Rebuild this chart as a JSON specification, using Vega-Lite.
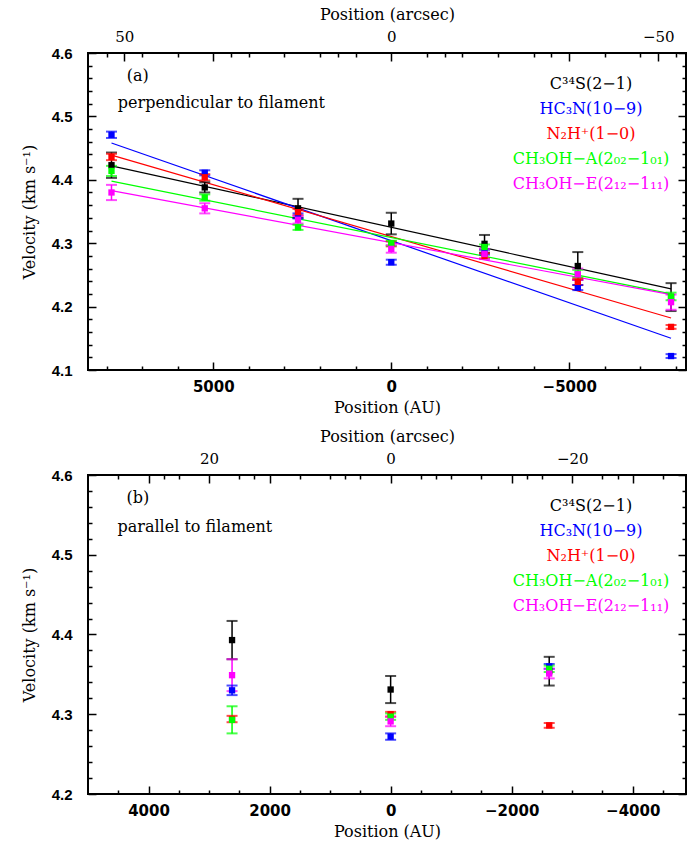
{
  "$schema": "https://vega.github.io/schema/vega-lite/v6.json",
  "padding": {"top": 5, "left": 20, "right": 0, "bottom": 0},
  "spacing": 11,
  "config": {
    "view": {"stroke": "black", "strokeWidth": 2},
    "font": "DejaVu Serif",
    "axis": {"grid": false, "domain": false, "tickColor": "black", "tickWidth": 1.5, "labelColor": "black", "titleColor": "black", "titleFont": "DejaVu Serif", "titleFontSize": 16, "titleFontWeight": "normal"}
  },
  "datasets": {
    "a": [
      {"s": "C34S", "x": 7860, "v": 4.423, "lo": 4.403, "hi": 4.443},
      {"s": "HC3N", "x": 7860, "v": 4.471, "lo": 4.466, "hi": 4.476},
      {"s": "N2H", "x": 7860, "v": 4.436, "lo": 4.431, "hi": 4.441},
      {"s": "CH3OHA", "x": 7860, "v": 4.414, "lo": 4.406, "hi": 4.422},
      {"s": "CH3OHE", "x": 7860, "v": 4.380, "lo": 4.368, "hi": 4.392},
      {"s": "C34S", "x": 5240, "v": 4.388, "lo": 4.380, "hi": 4.396},
      {"s": "HC3N", "x": 5240, "v": 4.411, "lo": 4.407, "hi": 4.415},
      {"s": "N2H", "x": 5240, "v": 4.404, "lo": 4.399, "hi": 4.409},
      {"s": "CH3OHA", "x": 5240, "v": 4.372, "lo": 4.367, "hi": 4.377},
      {"s": "CH3OHE", "x": 5240, "v": 4.355, "lo": 4.347, "hi": 4.363},
      {"s": "C34S", "x": 2620, "v": 4.355, "lo": 4.340, "hi": 4.370},
      {"s": "HC3N", "x": 2620, "v": 4.343, "lo": 4.339, "hi": 4.347},
      {"s": "N2H", "x": 2620, "v": 4.349, "lo": 4.344, "hi": 4.354},
      {"s": "CH3OHA", "x": 2620, "v": 4.325, "lo": 4.321, "hi": 4.329},
      {"s": "CH3OHE", "x": 2620, "v": 4.337, "lo": 4.331, "hi": 4.343},
      {"s": "C34S", "x": 0, "v": 4.331, "lo": 4.314, "hi": 4.348},
      {"s": "HC3N", "x": 0, "v": 4.270, "lo": 4.266, "hi": 4.274},
      {"s": "N2H", "x": 0, "v": 4.299, "lo": 4.295, "hi": 4.303},
      {"s": "CH3OHA", "x": 0, "v": 4.300, "lo": 4.296, "hi": 4.304},
      {"s": "CH3OHE", "x": 0, "v": 4.291, "lo": 4.285, "hi": 4.297},
      {"s": "C34S", "x": -2620, "v": 4.299, "lo": 4.285, "hi": 4.313},
      {"s": "HC3N", "x": -2620, "v": 4.286, "lo": 4.282, "hi": 4.290},
      {"s": "N2H", "x": -2620, "v": 4.280, "lo": 4.276, "hi": 4.284},
      {"s": "CH3OHA", "x": -2620, "v": 4.294, "lo": 4.290, "hi": 4.298},
      {"s": "CH3OHE", "x": -2620, "v": 4.283, "lo": 4.275, "hi": 4.291},
      {"s": "C34S", "x": -5240, "v": 4.264, "lo": 4.242, "hi": 4.286},
      {"s": "HC3N", "x": -5240, "v": 4.230, "lo": 4.226, "hi": 4.234},
      {"s": "N2H", "x": -5240, "v": 4.239, "lo": 4.234, "hi": 4.244},
      {"s": "CH3OHA", "x": -5240, "v": 4.252, "lo": 4.246, "hi": 4.258},
      {"s": "CH3OHE", "x": -5240, "v": 4.251, "lo": 4.242, "hi": 4.260},
      {"s": "C34S", "x": -7860, "v": 4.215, "lo": 4.193, "hi": 4.237},
      {"s": "HC3N", "x": -7860, "v": 4.122, "lo": 4.119, "hi": 4.125},
      {"s": "N2H", "x": -7860, "v": 4.168, "lo": 4.165, "hi": 4.171},
      {"s": "CH3OHA", "x": -7860, "v": 4.216, "lo": 4.210, "hi": 4.222},
      {"s": "CH3OHE", "x": -7860, "v": 4.207, "lo": 4.195, "hi": 4.219}
    ],
    "fa": [
      {"s": "C34S", "x": 7860, "v": 4.422}, {"s": "C34S", "x": -7860, "v": 4.228},
      {"s": "HC3N", "x": 7860, "v": 4.458}, {"s": "HC3N", "x": -7860, "v": 4.150},
      {"s": "N2H", "x": 7860, "v": 4.439}, {"s": "N2H", "x": -7860, "v": 4.182},
      {"s": "CH3OHA", "x": 7860, "v": 4.398}, {"s": "CH3OHA", "x": -7860, "v": 4.220},
      {"s": "CH3OHE", "x": 7860, "v": 4.383}, {"s": "CH3OHE", "x": -7860, "v": 4.219}
    ],
    "b": [
      {"s": "C34S", "x": 2620, "v": 4.393, "lo": 4.369, "hi": 4.417},
      {"s": "HC3N", "x": 2620, "v": 4.330, "lo": 4.324, "hi": 4.336},
      {"s": "N2H", "x": 2620, "v": 4.294, "lo": 4.290, "hi": 4.298},
      {"s": "CH3OHA", "x": 2620, "v": 4.293, "lo": 4.276, "hi": 4.310},
      {"s": "CH3OHE", "x": 2620, "v": 4.349, "lo": 4.329, "hi": 4.369},
      {"s": "C34S", "x": 0, "v": 4.331, "lo": 4.314, "hi": 4.348},
      {"s": "HC3N", "x": 0, "v": 4.272, "lo": 4.268, "hi": 4.276},
      {"s": "N2H", "x": 0, "v": 4.300, "lo": 4.297, "hi": 4.303},
      {"s": "CH3OHA", "x": 0, "v": 4.297, "lo": 4.293, "hi": 4.301},
      {"s": "CH3OHE", "x": 0, "v": 4.291, "lo": 4.285, "hi": 4.297},
      {"s": "C34S", "x": -2620, "v": 4.354, "lo": 4.336, "hi": 4.372},
      {"s": "HC3N", "x": -2620, "v": 4.360, "lo": 4.357, "hi": 4.363},
      {"s": "N2H", "x": -2620, "v": 4.286, "lo": 4.283, "hi": 4.289},
      {"s": "CH3OHA", "x": -2620, "v": 4.357, "lo": 4.353, "hi": 4.361},
      {"s": "CH3OHE", "x": -2620, "v": 4.351, "lo": 4.345, "hi": 4.357}
    ]
  },
  "resolve": {"scale": {"color": "independent"}},
  "vconcat": [
    {
      "width": 598, "height": 317,
      "resolve": {"axis": {"x": "independent", "y": "independent"}},
      "layer": [
        {
          "data": {"name": "fa"},
          "mark": {"type": "line", "strokeWidth": 1.2},
          "encoding": {
            "x": {"field": "x", "type": "quantitative", "scale": {"domain": [-8280, 8520], "reverse": true, "nice": false, "zero": false},
                  "axis": {"orient": "bottom", "labels": false, "title": null, "tickSize": -4, "values": [-8000, -7000, -6000, -4000, -3000, -2000, -1000, 1000, 2000, 3000, 4000, 6000, 7000, 8000]}},
            "y": {"field": "v", "type": "quantitative", "scale": {"domain": [4.1, 4.6], "nice": false, "zero": false},
                  "axis": {"orient": "left", "labels": false, "title": null, "tickSize": -4, "values": [4.12, 4.14, 4.16, 4.18, 4.22, 4.24, 4.26, 4.28, 4.32, 4.34, 4.36, 4.38, 4.42, 4.44, 4.46, 4.48, 4.52, 4.54, 4.56, 4.58]}},
            "color": {"field": "s", "type": "nominal", "scale": {"domain": ["C34S", "HC3N", "N2H", "CH3OHA", "CH3OHE"], "range": ["#000000", "#0000ff", "#ff0000", "#00ff00", "#ff00ff"]}}
          }
        },
        {
          "data": {"name": "a"},
          "mark": {"type": "rule", "strokeWidth": 1.5},
          "encoding": {
            "x": {"field": "x", "type": "quantitative", "scale": {"domain": [-8280, 8520], "reverse": true, "nice": false, "zero": false},
                  "axis": {"orient": "top", "labels": false, "title": null, "tickSize": -8, "values": [7500, 5000, 0, -5000, -7500]}},
            "y": {"field": "lo", "type": "quantitative", "scale": {"domain": [4.1, 4.6], "nice": false, "zero": false},
                  "axis": {"orient": "right", "labels": false, "title": null, "tickSize": -8, "values": [4.1, 4.2, 4.3, 4.4, 4.5, 4.6]}},
            "y2": {"field": "hi"},
            "color": {"field": "s", "type": "nominal", "scale": {"domain": ["C34S", "HC3N", "N2H", "CH3OHA", "CH3OHE"], "range": ["#000000", "#0000ff", "#ff0000", "#00ff00", "#ff00ff"]}}
          }
        },
        {
          "data": {"name": "a"},
          "mark": {"type": "tick", "orient": "horizontal", "size": 11, "thickness": 2},
          "encoding": {
            "x": {"field": "x", "type": "quantitative", "scale": {"domain": [-8280, 8520], "reverse": true, "nice": false, "zero": false},
                  "axis": {"orient": "top", "ticks": false, "values": [7500, 0, -7500], "labelExpr": "format(datum.value/150, 'd')", "labelFont": "DejaVu Serif", "labelFontSize": 15, "labelPadding": 9, "title": "Position (arcsec)", "titlePadding": 7}},
            "y": {"field": "lo", "type": "quantitative", "scale": {"domain": [4.1, 4.6], "nice": false, "zero": false},
                  "axis": {"orient": "right", "labels": false, "title": null, "tickSize": -4, "values": [4.12, 4.14, 4.16, 4.18, 4.22, 4.24, 4.26, 4.28, 4.32, 4.34, 4.36, 4.38, 4.42, 4.44, 4.46, 4.48, 4.52, 4.54, 4.56, 4.58]}},
            "color": {"field": "s", "type": "nominal", "scale": {"domain": ["C34S", "HC3N", "N2H", "CH3OHA", "CH3OHE"], "range": ["#000000", "#0000ff", "#ff0000", "#00ff00", "#ff00ff"]}}
          }
        },
        {
          "data": {"name": "a"},
          "mark": {"type": "tick", "orient": "horizontal", "size": 11, "thickness": 2},
          "encoding": {
            "x": {"field": "x", "type": "quantitative", "scale": {"domain": [-8280, 8520], "reverse": true, "nice": false, "zero": false},
                  "axis": {"orient": "bottom", "labels": false, "title": null, "tickSize": -8, "values": [5000, 0, -5000]}},
            "y": {"field": "hi", "type": "quantitative", "scale": {"domain": [4.1, 4.6], "nice": false, "zero": false},
                  "axis": {"orient": "left", "labels": false, "title": null, "tickSize": -8, "values": [4.1, 4.2, 4.3, 4.4, 4.5, 4.6]}},
            "color": {"field": "s", "type": "nominal", "scale": {"domain": ["C34S", "HC3N", "N2H", "CH3OHA", "CH3OHE"], "range": ["#000000", "#0000ff", "#ff0000", "#00ff00", "#ff00ff"]}}
          }
        },
        {
          "data": {"name": "a"},
          "mark": {"type": "square", "size": 40, "opacity": 1, "filled": true},
          "encoding": {
            "x": {"field": "x", "type": "quantitative", "scale": {"domain": [-8280, 8520], "reverse": true, "nice": false, "zero": false},
                  "axis": {"orient": "bottom", "ticks": false, "values": [5000, 0, -5000], "format": "d", "labelFont": "DejaVu Sans", "labelFontWeight": "bold", "labelFontSize": 15, "labelPadding": 9, "title": "Position (AU)", "titlePadding": 5}},
            "y": {"field": "v", "type": "quantitative", "scale": {"domain": [4.1, 4.6], "nice": false, "zero": false},
                  "axis": {"orient": "left", "ticks": false, "values": [4.1, 4.2, 4.3, 4.4, 4.5, 4.6], "format": ".1f", "labelFont": "Liberation Sans", "labelFontWeight": "bold", "labelFontSize": 15, "labelPadding": 16, "title": "Velocity (km s\u207b\u00b9)", "titlePadding": 14}},
            "color": {"field": "s", "type": "nominal", "scale": {"domain": ["C34S", "HC3N", "N2H", "CH3OHA", "CH3OHE"], "range": ["#000000", "#0000ff", "#ff0000", "#00ff00", "#ff00ff"]},
                      "legend": {"orient": "none", "legendX": 487, "legendY": 23, "title": null, "padding": 0, "symbolSize": 0, "symbolStrokeWidth": 0, "symbolOpacity": 0, "labelFont": "DejaVu Serif", "labelFontSize": 16, "labelAlign": "center", "labelOffset": 0, "labelLimit": 400, "rowPadding": 9,
                                 "labelExpr": "datum.value === 'C34S' ? 'C\u00b3\u2074S(2\u22121)' : datum.value === 'HC3N' ? 'HC\u2083N(10\u22129)' : datum.value === 'N2H' ? 'N\u2082H\u207a(1\u22120)' : datum.value === 'CH3OHA' ? 'CH\u2083OH\u2212A(2\u2080\u2082\u22121\u2080\u2081)' : 'CH\u2083OH\u2212E(2\u2081\u2082\u22121\u2081\u2081)'",
                                 "encode": {"labels": {"update": {"fill": {"signal": "datum.value === 'HC3N' ? '#0000ff' : datum.value === 'N2H' ? '#ff0000' : datum.value === 'CH3OHA' ? '#00ff00' : datum.value === 'CH3OHE' ? '#ff00ff' : '#000000'"}}}}}}
          }
        },
        {
          "data": {"values": [{}]},
          "mark": {"type": "text", "align": "left", "baseline": "middle", "font": "DejaVu Serif", "fontSize": 16, "color": "black"},
          "encoding": {
            "x": {"datum": 7430, "type": "quantitative", "scale": {"domain": [-8280, 8520], "reverse": true, "nice": false, "zero": false},
                  "axis": {"orient": "top", "labels": false, "title": null, "tickSize": -4, "values": [8000, 7000, 6000, 4500, 4000, 3000, 2000, 1500, 1000, -1000, -1500, -2000, -3000, -4000, -4500, -6000, -7000, -8000]}},
            "y": {"datum": 4.564, "type": "quantitative", "scale": {"domain": [4.1, 4.6], "nice": false, "zero": false}, "axis": null},
            "text": {"value": "(a)"}
          }
        },
        {
          "data": {"values": [{}]},
          "mark": {"type": "text", "align": "left", "baseline": "middle", "font": "DejaVu Serif", "fontSize": 16, "color": "black"},
          "encoding": {
            "x": {"datum": 7683, "type": "quantitative", "scale": {"domain": [-8280, 8520], "reverse": true, "nice": false, "zero": false}, "axis": null},
            "y": {"datum": 4.521, "type": "quantitative", "scale": {"domain": [4.1, 4.6], "nice": false, "zero": false}, "axis": null},
            "text": {"value": "perpendicular to filament"}
          }
        }
      ]
    },
    {
      "width": 598, "height": 319,
      "resolve": {"axis": {"x": "independent", "y": "independent"}},
      "layer": [
        {
          "data": {"name": "b"},
          "mark": {"type": "rule", "strokeWidth": 1.5},
          "encoding": {
            "x": {"field": "x", "type": "quantitative", "scale": {"domain": [-4880, 5000], "reverse": true, "nice": false, "zero": false},
                  "axis": {"orient": "top", "labels": false, "title": null, "tickSize": -8, "values": [4000, 3000, 2000, 0, -2000, -3000, -4000]}},
            "y": {"field": "lo", "type": "quantitative", "scale": {"domain": [4.2, 4.6], "nice": false, "zero": false},
                  "axis": {"orient": "right", "labels": false, "title": null, "tickSize": -8, "values": [4.2, 4.3, 4.4, 4.5, 4.6]}},
            "y2": {"field": "hi"},
            "color": {"field": "s", "type": "nominal", "scale": {"domain": ["C34S", "HC3N", "N2H", "CH3OHA", "CH3OHE"], "range": ["#000000", "#0000ff", "#ff0000", "#00ff00", "#ff00ff"]}}
          }
        },
        {
          "data": {"name": "b"},
          "mark": {"type": "tick", "orient": "horizontal", "size": 11, "thickness": 2},
          "encoding": {
            "x": {"field": "x", "type": "quantitative", "scale": {"domain": [-4880, 5000], "reverse": true, "nice": false, "zero": false},
                  "axis": {"orient": "top", "ticks": false, "values": [3000, 0, -3000], "labelExpr": "format(datum.value/150, 'd')", "labelFont": "DejaVu Serif", "labelFontSize": 15, "labelPadding": 9, "title": "Position (arcsec)", "titlePadding": 7}},
            "y": {"field": "lo", "type": "quantitative", "scale": {"domain": [4.2, 4.6], "nice": false, "zero": false},
                  "axis": {"orient": "right", "labels": false, "title": null, "tickSize": -4, "values": [4.22, 4.24, 4.26, 4.28, 4.32, 4.34, 4.36, 4.38, 4.42, 4.44, 4.46, 4.48, 4.52, 4.54, 4.56, 4.58]}},
            "color": {"field": "s", "type": "nominal", "scale": {"domain": ["C34S", "HC3N", "N2H", "CH3OHA", "CH3OHE"], "range": ["#000000", "#0000ff", "#ff0000", "#00ff00", "#ff00ff"]}}
          }
        },
        {
          "data": {"name": "b"},
          "mark": {"type": "tick", "orient": "horizontal", "size": 11, "thickness": 2},
          "encoding": {
            "x": {"field": "x", "type": "quantitative", "scale": {"domain": [-4880, 5000], "reverse": true, "nice": false, "zero": false},
                  "axis": {"orient": "bottom", "labels": false, "title": null, "tickSize": -8, "values": [4000, 2000, 0, -2000, -4000]}},
            "y": {"field": "hi", "type": "quantitative", "scale": {"domain": [4.2, 4.6], "nice": false, "zero": false},
                  "axis": {"orient": "left", "labels": false, "title": null, "tickSize": -8, "values": [4.2, 4.3, 4.4, 4.5, 4.6]}},
            "color": {"field": "s", "type": "nominal", "scale": {"domain": ["C34S", "HC3N", "N2H", "CH3OHA", "CH3OHE"], "range": ["#000000", "#0000ff", "#ff0000", "#00ff00", "#ff00ff"]}}
          }
        },
        {
          "data": {"name": "b"},
          "mark": {"type": "square", "size": 40, "opacity": 1, "filled": true},
          "encoding": {
            "x": {"field": "x", "type": "quantitative", "scale": {"domain": [-4880, 5000], "reverse": true, "nice": false, "zero": false},
                  "axis": {"orient": "bottom", "ticks": false, "values": [4000, 2000, 0, -2000, -4000], "format": "d", "labelFont": "DejaVu Sans", "labelFontWeight": "bold", "labelFontSize": 15, "labelPadding": 9, "title": "Position (AU)", "titlePadding": 5}},
            "y": {"field": "v", "type": "quantitative", "scale": {"domain": [4.2, 4.6], "nice": false, "zero": false},
                  "axis": {"orient": "left", "ticks": false, "values": [4.2, 4.3, 4.4, 4.5, 4.6], "format": ".1f", "labelFont": "Liberation Sans", "labelFontWeight": "bold", "labelFontSize": 15, "labelPadding": 16, "title": "Velocity (km s\u207b\u00b9)", "titlePadding": 14}},
            "color": {"field": "s", "type": "nominal", "scale": {"domain": ["C34S", "HC3N", "N2H", "CH3OHA", "CH3OHE"], "range": ["#000000", "#0000ff", "#ff0000", "#00ff00", "#ff00ff"]},
                      "legend": {"orient": "none", "legendX": 487, "legendY": 23, "title": null, "padding": 0, "symbolSize": 0, "symbolStrokeWidth": 0, "symbolOpacity": 0, "labelFont": "DejaVu Serif", "labelFontSize": 16, "labelAlign": "center", "labelOffset": 0, "labelLimit": 400, "rowPadding": 9,
                                 "labelExpr": "datum.value === 'C34S' ? 'C\u00b3\u2074S(2\u22121)' : datum.value === 'HC3N' ? 'HC\u2083N(10\u22129)' : datum.value === 'N2H' ? 'N\u2082H\u207a(1\u22120)' : datum.value === 'CH3OHA' ? 'CH\u2083OH\u2212A(2\u2080\u2082\u22121\u2080\u2081)' : 'CH\u2083OH\u2212E(2\u2081\u2082\u22121\u2081\u2081)'",
                                 "encode": {"labels": {"update": {"fill": {"signal": "datum.value === 'HC3N' ? '#0000ff' : datum.value === 'N2H' ? '#ff0000' : datum.value === 'CH3OHA' ? '#00ff00' : datum.value === 'CH3OHE' ? '#ff00ff' : '#000000'"}}}}}}
          }
        },
        {
          "data": {"values": [{}]},
          "mark": {"type": "text", "align": "left", "baseline": "middle", "font": "DejaVu Serif", "fontSize": 16, "color": "black"},
          "encoding": {
            "x": {"datum": 4364, "type": "quantitative", "scale": {"domain": [-4880, 5000], "reverse": true, "nice": false, "zero": false},
                  "axis": {"orient": "bottom", "labels": false, "title": null, "tickSize": -4, "values": [4500, 3500, 3000, 2500, 1500, 1000, 500, -500, -1000, -1500, -2500, -3000, -3500, -4500]}},
            "y": {"datum": 4.571, "type": "quantitative", "scale": {"domain": [4.2, 4.6], "nice": false, "zero": false},
                  "axis": {"orient": "left", "labels": false, "title": null, "tickSize": -4, "values": [4.22, 4.24, 4.26, 4.28, 4.32, 4.34, 4.36, 4.38, 4.42, 4.44, 4.46, 4.48, 4.52, 4.54, 4.56, 4.58]}},
            "text": {"value": "(b)"}
          }
        },
        {
          "data": {"values": [{}]},
          "mark": {"type": "text", "align": "left", "baseline": "middle", "font": "DejaVu Serif", "fontSize": 16, "color": "black"},
          "encoding": {
            "x": {"datum": 4512, "type": "quantitative", "scale": {"domain": [-4880, 5000], "reverse": true, "nice": false, "zero": false},
                  "axis": {"orient": "top", "labels": false, "title": null, "tickSize": -4, "values": [4500, 3750, 3500, 2500, 2250, 1500, 1000, 750, 500, -500, -750, -1000, -1500, -2250, -2500, -3500, -3750, -4500]}},
            "y": {"datum": 4.535, "type": "quantitative", "scale": {"domain": [4.2, 4.6], "nice": false, "zero": false}, "axis": null},
            "text": {"value": "parallel to filament"}
          }
        }
      ]
    }
  ]
}
